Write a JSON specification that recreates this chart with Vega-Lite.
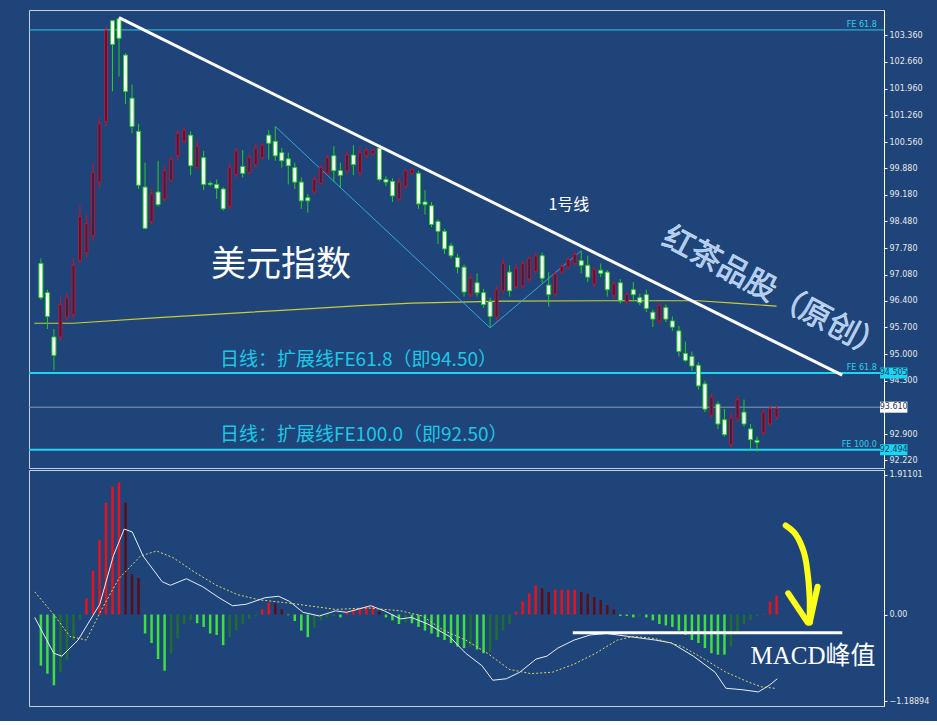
{
  "$schema": "https://vega.github.io/schema/vega-lite/v6.json",
  "background": "#1f4479",
  "padding": {"left": 27, "top": 9, "right": 22, "bottom": 14},
  "spacing": 0,
  "config": {"view": {"stroke": "#c8d0dc", "strokeWidth": 1}, "axisY": {"orient": "right", "title": null, "grid": false, "domainColor": "#ffffff", "tickColor": "#ffffff", "tickSize": 3, "labelColor": "#e8e8e8", "labelFontSize": 8, "labelFont": "DejaVu Sans", "labelPadding": 2}},
  "datasets": {
    "candles": [
      {"i":0,"o":97.38,"h":97.51,"l":96.43,"c":96.48},{"i":1,"o":96.61,"h":96.69,"l":95.66,"c":95.99},{"i":2,"o":95.45,"h":95.66,"l":94.58,"c":94.97},{"i":3,"o":95.45,"h":96.51,"l":95.35,"c":96.30},{"i":4,"o":95.97,"h":96.61,"l":95.87,"c":96.48},{"i":5,"o":96.04,"h":97.53,"l":95.92,"c":97.33},{"i":6,"o":97.45,"h":98.92,"l":97.38,"c":98.61},{"i":7,"o":97.66,"h":98.66,"l":97.53,"c":98.43},{"i":8,"o":98.10,"h":100.02,"l":97.97,"c":99.76},{"i":9,"o":99.51,"h":101.22,"l":99.33,"c":101.04},
      {"i":10,"o":101.10,"h":103.61,"l":100.97,"c":103.48},{"i":11,"o":103.74,"h":103.76,"l":101.89,"c":103.12},{"i":12,"o":103.79,"h":103.82,"l":102.28,"c":103.28},{"i":13,"o":102.84,"h":102.89,"l":101.56,"c":101.89},{"i":14,"o":101.71,"h":102.07,"l":100.79,"c":100.97},{"i":15,"o":100.84,"h":101.04,"l":99.33,"c":99.43},{"i":16,"o":99.38,"h":100.02,"l":98.28,"c":98.30},{"i":17,"o":98.48,"h":99.33,"l":98.40,"c":99.20},{"i":18,"o":99.25,"h":100.07,"l":98.87,"c":98.92},{"i":19,"o":99.07,"h":99.94,"l":98.99,"c":99.81},
      {"i":20,"o":99.56,"h":100.20,"l":99.51,"c":100.10},{"i":21,"o":100.20,"h":100.87,"l":100.10,"c":100.79},{"i":22,"o":100.58,"h":100.97,"l":100.53,"c":100.87},{"i":23,"o":100.74,"h":100.84,"l":99.69,"c":99.94},{"i":24,"o":99.89,"h":100.61,"l":99.84,"c":100.45},{"i":25,"o":100.15,"h":100.33,"l":99.30,"c":99.45},{"i":26,"o":99.48,"h":99.53,"l":99.40,"c":99.45},{"i":27,"o":99.45,"h":99.58,"l":99.07,"c":99.35},{"i":28,"o":99.33,"h":99.38,"l":98.76,"c":98.81},{"i":29,"o":98.87,"h":100.02,"l":98.81,"c":99.89},
      {"i":30,"o":99.71,"h":100.40,"l":99.63,"c":100.33},{"i":31,"o":99.92,"h":100.35,"l":99.63,"c":99.74},{"i":32,"o":99.76,"h":100.28,"l":99.71,"c":100.15},{"i":33,"o":99.97,"h":100.53,"l":99.89,"c":100.40},{"i":34,"o":100.15,"h":100.53,"l":100.10,"c":100.48},{"i":35,"o":100.74,"h":100.87,"l":100.10,"c":100.53},{"i":36,"o":100.58,"h":100.97,"l":100.07,"c":100.20},{"i":37,"o":100.28,"h":100.40,"l":99.89,"c":100.07},{"i":38,"o":100.12,"h":100.28,"l":99.45,"c":99.94},{"i":39,"o":99.89,"h":100.02,"l":99.33,"c":99.51},
      {"i":40,"o":99.51,"h":99.63,"l":98.81,"c":99.02},{"i":41,"o":99.10,"h":99.20,"l":98.71,"c":99.02},{"i":42,"o":99.25,"h":99.69,"l":99.20,"c":99.58},{"i":43,"o":99.48,"h":99.97,"l":99.43,"c":99.89},{"i":44,"o":99.74,"h":100.22,"l":99.69,"c":100.15},{"i":45,"o":100.20,"h":100.45,"l":99.51,"c":99.81},{"i":46,"o":99.81,"h":100.02,"l":99.38,"c":99.69},{"i":47,"o":99.81,"h":100.33,"l":99.71,"c":100.22},{"i":48,"o":100.22,"h":100.48,"l":99.69,"c":99.97},{"i":49,"o":99.76,"h":100.45,"l":99.63,"c":100.28},
      {"i":50,"o":100.20,"h":100.43,"l":100.12,"c":100.35},{"i":51,"o":100.25,"h":100.40,"l":100.20,"c":100.35},{"i":52,"o":100.40,"h":100.48,"l":99.53,"c":99.58},{"i":53,"o":99.58,"h":99.66,"l":99.40,"c":99.51},{"i":54,"o":99.53,"h":99.61,"l":98.99,"c":99.15},{"i":55,"o":99.07,"h":99.63,"l":99.02,"c":99.51},{"i":56,"o":99.40,"h":99.87,"l":99.33,"c":99.81},{"i":57,"o":99.74,"h":99.89,"l":99.69,"c":99.84},{"i":58,"o":99.74,"h":99.81,"l":98.81,"c":98.94},{"i":59,"o":98.99,"h":99.30,"l":98.66,"c":98.92},
      {"i":60,"o":98.89,"h":98.99,"l":98.33,"c":98.40},{"i":61,"o":98.48,"h":98.53,"l":97.89,"c":98.22},{"i":62,"o":98.22,"h":98.28,"l":97.63,"c":97.76},{"i":63,"o":97.84,"h":97.92,"l":97.51,"c":97.58},{"i":64,"o":97.53,"h":97.63,"l":97.12,"c":97.28},{"i":65,"o":97.28,"h":97.35,"l":96.51,"c":96.63},{"i":66,"o":96.56,"h":97.12,"l":96.48,"c":96.99},{"i":67,"o":96.87,"h":97.12,"l":96.51,"c":96.61},{"i":68,"o":96.61,"h":96.71,"l":96.22,"c":96.30},{"i":69,"o":96.38,"h":96.48,"l":95.71,"c":95.99},
      {"i":70,"o":95.97,"h":96.79,"l":95.87,"c":96.69},{"i":71,"o":96.66,"h":97.51,"l":96.58,"c":97.38},{"i":72,"o":97.15,"h":97.33,"l":96.51,"c":96.66},{"i":73,"o":96.76,"h":97.38,"l":96.69,"c":97.25},{"i":74,"o":96.79,"h":97.45,"l":96.74,"c":97.38},{"i":75,"o":96.97,"h":97.58,"l":96.89,"c":97.51},{"i":76,"o":97.17,"h":97.66,"l":97.10,"c":97.58},{"i":77,"o":97.58,"h":97.66,"l":96.87,"c":96.99},{"i":78,"o":96.81,"h":97.15,"l":96.25,"c":96.56},{"i":79,"o":96.58,"h":97.17,"l":96.51,"c":97.10},
      {"i":80,"o":97.15,"h":97.38,"l":97.10,"c":97.30},{"i":81,"o":97.28,"h":97.56,"l":97.22,"c":97.48},{"i":82,"o":97.38,"h":97.71,"l":97.33,"c":97.61},{"i":83,"o":97.45,"h":97.71,"l":97.12,"c":97.33},{"i":84,"o":97.33,"h":97.58,"l":96.89,"c":97.02},{"i":85,"o":96.84,"h":97.30,"l":96.76,"c":97.22},{"i":86,"o":97.20,"h":97.38,"l":97.02,"c":97.12},{"i":87,"o":97.15,"h":97.20,"l":96.51,"c":96.69},{"i":88,"o":96.53,"h":96.92,"l":96.45,"c":96.84},{"i":89,"o":96.87,"h":96.97,"l":96.33,"c":96.40},
      {"i":90,"o":96.38,"h":96.63,"l":96.30,"c":96.56},{"i":91,"o":96.69,"h":96.89,"l":96.38,"c":96.56},{"i":92,"o":96.48,"h":96.58,"l":96.28,"c":96.35},{"i":93,"o":96.56,"h":96.69,"l":96.10,"c":96.20},{"i":94,"o":96.10,"h":96.17,"l":95.71,"c":95.92},{"i":95,"o":95.87,"h":96.35,"l":95.79,"c":96.28},{"i":96,"o":96.22,"h":96.30,"l":95.84,"c":95.92},{"i":97,"o":95.87,"h":95.99,"l":95.61,"c":95.71},{"i":98,"o":95.61,"h":95.74,"l":94.94,"c":95.07},{"i":99,"o":95.02,"h":95.33,"l":94.79,"c":94.84},
      {"i":100,"o":94.94,"h":95.07,"l":94.56,"c":94.69},{"i":101,"o":94.71,"h":94.79,"l":94.07,"c":94.17},{"i":102,"o":94.22,"h":94.30,"l":93.48,"c":93.56},{"i":103,"o":93.40,"h":93.97,"l":93.33,"c":93.87},{"i":104,"o":93.69,"h":93.76,"l":93.04,"c":93.17},{"i":105,"o":93.28,"h":93.56,"l":92.84,"c":92.89},{"i":106,"o":92.63,"h":93.48,"l":92.56,"c":93.33},{"i":107,"o":93.30,"h":93.92,"l":93.22,"c":93.81},{"i":108,"o":93.48,"h":93.81,"l":93.10,"c":93.17},{"i":109,"o":93.04,"h":93.17,"l":92.51,"c":92.76},
      {"i":110,"o":92.74,"h":92.84,"l":92.45,"c":92.69},{"i":111,"o":92.94,"h":93.56,"l":92.87,"c":93.48},{"i":112,"o":93.17,"h":93.66,"l":93.10,"c":93.58},{"i":113,"o":93.35,"h":93.66,"l":93.28,"c":93.58}
    ],
    "ma": [{"i":-1,"p":95.81},{"i":5,"p":95.81},{"i":18,"p":95.96},{"i":37,"p":96.15},{"i":49,"p":96.27},{"i":57,"p":96.34},{"i":71,"p":96.39},{"i":86,"p":96.40},{"i":101,"p":96.40},{"i":107,"p":96.33},{"i":113,"p":96.26}],
    "hist": [
      {"i":0,"m":-0.70},{"i":1,"m":-0.81},{"i":2,"m":-0.97},{"i":3,"m":-0.79},{"i":4,"m":-0.62},{"i":5,"m":-0.35},{"i":6,"m":-0.07},{"i":7,"m":0.22},{"i":8,"m":0.60},{"i":9,"m":1.02},
      {"i":10,"m":1.53},{"i":11,"m":1.75},{"i":12,"m":1.81},{"i":13,"m":1.53},{"i":14,"m":0.55},{"i":15,"m":0.50},{"i":16,"m":-0.26},{"i":17,"m":-0.39},{"i":18,"m":-0.61},{"i":19,"m":-0.77},
      {"i":20,"m":-0.53},{"i":21,"m":-0.33},{"i":22,"m":-0.13},{"i":23,"m":-0.08},{"i":24,"m":-0.12},{"i":25,"m":-0.17},{"i":26,"m":-0.26},{"i":27,"m":-0.28},{"i":28,"m":-0.42},{"i":29,"m":-0.31},
      {"i":30,"m":-0.22},{"i":31,"m":-0.13},{"i":32,"m":-0.06},{"i":33,"m":-0.02},{"i":34,"m":0.07},{"i":35,"m":0.16},{"i":36,"m":0.15},{"i":37,"m":0.07},{"i":38,"m":-0.01},{"i":39,"m":-0.09},
      {"i":40,"m":-0.22},{"i":41,"m":-0.31},{"i":42,"m":-0.18},{"i":43,"m":-0.08},{"i":44,"m":-0.04},{"i":45,"m":-0.02},{"i":46,"m":-0.04},{"i":47,"m":0.04},{"i":48,"m":0.07},{"i":49,"m":0.09},
      {"i":50,"m":0.11},{"i":51,"m":0.12},{"i":52,"m":0.04},{"i":53,"m":-0.04},{"i":54,"m":-0.08},{"i":55,"m":-0.13},{"i":56,"m":-0.11},{"i":57,"m":-0.12},{"i":58,"m":-0.17},{"i":59,"m":-0.22},
      {"i":60,"m":-0.26},{"i":61,"m":-0.31},{"i":62,"m":-0.35},{"i":63,"m":-0.39},{"i":64,"m":-0.44},{"i":65,"m":-0.46},{"i":66,"m":-0.44},{"i":67,"m":-0.48},{"i":68,"m":-0.53},{"i":69,"m":-0.51},
      {"i":70,"m":-0.35},{"i":71,"m":-0.22},{"i":72,"m":-0.13},{"i":73,"m":0.04},{"i":74,"m":0.18},{"i":75,"m":0.29},{"i":76,"m":0.40},{"i":77,"m":0.36},{"i":78,"m":0.31},{"i":79,"m":0.34},
      {"i":80,"m":0.34},{"i":81,"m":0.34},{"i":82,"m":0.34},{"i":83,"m":0.31},{"i":84,"m":0.28},{"i":85,"m":0.24},{"i":86,"m":0.20},{"i":87,"m":0.13},{"i":88,"m":0.07},{"i":89,"m":-0.02},
      {"i":90,"m":-0.02},{"i":91,"m":-0.04},{"i":92,"m":-0.03},{"i":93,"m":-0.04},{"i":94,"m":-0.08},{"i":95,"m":-0.13},{"i":96,"m":-0.15},{"i":97,"m":-0.17},{"i":98,"m":-0.22},{"i":99,"m":-0.28},
      {"i":100,"m":-0.35},{"i":101,"m":-0.39},{"i":102,"m":-0.46},{"i":103,"m":-0.53},{"i":104,"m":-0.55},{"i":105,"m":-0.55},{"i":106,"m":-0.44},{"i":107,"m":-0.26},{"i":108,"m":-0.13},{"i":109,"m":-0.07},
      {"i":110,"m":-0.02},{"i":111,"m":0.01},{"i":112,"m":0.18},{"i":113,"m":0.26}
    ],
    "macd": [{"i":-0.95,"v":-0.04},{"i":1.97,"v":-0.53},{"i":3.21,"v":-0.57},{"i":5.71,"v":-0.35},{"i":9.04,"v":0.14},{"i":11.12,"v":0.80},{"i":12.79,"v":1.17},{"i":14.04,"v":1.13},{"i":15.7,"v":0.80},{"i":18.62,"v":0.45},{"i":19.87,"v":0.40},{"i":22.36,"v":0.49},{"i":24.86,"v":0.38},{"i":27.36,"v":0.23},{"i":29.44,"v":0.12},{"i":31.52,"v":0.14},{"i":34.44,"v":0.23},{"i":36.52,"v":0.25},{"i":38.18,"v":0.18},{"i":40.27,"v":0.03},{"i":42.77,"v":-0.02},{"i":45.26,"v":0.05},{"i":46.93,"v":0.03},{"i":48.59,"v":0.07},{"i":50.67,"v":0.12},{"i":52.76,"v":0.05},{"i":55.25,"v":-0.06},{"i":56.92,"v":-0.04},{"i":59.42,"v":-0.13},{"i":62.75,"v":-0.30},{"i":65.25,"v":-0.53},{"i":67.74,"v":-0.70},{"i":69.41,"v":-0.90},{"i":71.49,"v":-0.88},{"i":73.57,"v":-0.79},{"i":76.07,"v":-0.61},{"i":77.73,"v":-0.57},{"i":79.4,"v":-0.46},{"i":81.9,"v":-0.35},{"i":84.4,"v":-0.28},{"i":86.9,"v":-0.26},{"i":90.23,"v":-0.30},{"i":94.39,"v":-0.35},{"i":96.89,"v":-0.39},{"i":100.22,"v":-0.57},{"i":103.55,"v":-0.79},{"i":105.22,"v":-1.01},{"i":107.71,"v":-1.03},{"i":110.21,"v":-1.06},{"i":111.88,"v":-0.97},{"i":113.12,"v":-0.88}],
    "signal": [{"i":-0.95,"v":0.31},{"i":1.97,"v":0.00},{"i":4.46,"v":-0.30},{"i":6.96,"v":-0.35},{"i":9.46,"v":0.09},{"i":11.96,"v":0.49},{"i":15.29,"v":0.80},{"i":17.78,"v":0.87},{"i":20.28,"v":0.78},{"i":23.61,"v":0.58},{"i":26.94,"v":0.40},{"i":30.27,"v":0.27},{"i":33.6,"v":0.20},{"i":37.77,"v":0.16},{"i":41.93,"v":0.11},{"i":45.26,"v":0.07},{"i":50.26,"v":0.09},{"i":55.25,"v":0.05},{"i":58.58,"v":-0.02},{"i":61.91,"v":-0.22},{"i":65.25,"v":-0.35},{"i":68.58,"v":-0.53},{"i":71.91,"v":-0.75},{"i":75.24,"v":-0.81},{"i":78.57,"v":-0.79},{"i":81.9,"v":-0.68},{"i":85.23,"v":-0.53},{"i":88.56,"v":-0.35},{"i":91.06,"v":-0.30},{"i":94.39,"v":-0.33},{"i":98.56,"v":-0.44},{"i":101.89,"v":-0.61},{"i":105.22,"v":-0.79},{"i":108.55,"v":-0.92},{"i":110.63,"v":-0.99},{"i":112.71,"v":-1.01}],
    "arrow": [{"part":"shaft","i":114.4,"v":1.22},{"part":"shaft","i":116.9,"v":0.93},{"part":"shaft","i":117.7,"v":0.62},{"part":"shaft","i":118.1,"v":0.19},{"part":"shaft","i":118.1,"v":-0.11},{"part":"left","i":114.8,"v":0.29},{"part":"left","i":117.8,"v":-0.11},{"part":"right","i":119.3,"v":0.38},{"part":"right","i":118.1,"v":-0.11}]
  },
  "vconcat": [
    {
      "width": 855,
      "height": 458,
      "layer": [
        {"data": {"values": [{"p": 103.5}]}, "mark": {"type": "rule", "color": "#2cc8e4", "strokeWidth": 1}, "encoding": {"y": {"field": "p", "type": "quantitative", "scale": {"domain": [92.147, 103.891], "nice": false, "zero": false}, "axis": {"values": [103.36,102.66,101.96,101.26,100.56,99.88,99.18,98.48,97.78,97.08,96.4,95.7,95,94.3,92.9,92.22], "format": ".3f"}}}},
        {"data": {"values": [{"p": 94.505}]}, "mark": {"type": "rule", "color": "#1ad6f2", "strokeWidth": 2}, "encoding": {"y": {"field": "p", "type": "quantitative", "scale": {"domain": [92.147, 103.891], "nice": false, "zero": false}, "axis": {"values": [103.36,102.66,101.96,101.26,100.56,99.88,99.18,98.48,97.78,97.08,96.4,95.7,95,94.3,92.9,92.22], "format": ".3f"}}}},
        {"data": {"values": [{"p": 93.61}]}, "mark": {"type": "rule", "color": "#8a98b0", "strokeWidth": 1}, "encoding": {"y": {"field": "p", "type": "quantitative", "scale": {"domain": [92.147, 103.891], "nice": false, "zero": false}, "axis": {"values": [103.36,102.66,101.96,101.26,100.56,99.88,99.18,98.48,97.78,97.08,96.4,95.7,95,94.3,92.9,92.22], "format": ".3f"}}}},
        {"data": {"values": [{"p": 92.494}]}, "mark": {"type": "rule", "color": "#1ad6f2", "strokeWidth": 2}, "encoding": {"y": {"field": "p", "type": "quantitative", "scale": {"domain": [92.147, 103.891], "nice": false, "zero": false}, "axis": {"values": [103.36,102.66,101.96,101.26,100.56,99.88,99.18,98.48,97.78,97.08,96.4,95.7,95,94.3,92.9,92.22], "format": ".3f"}}}},
        {"data": {"name": "ma"}, "mark": {"type": "line", "color": "#c8cc3a", "strokeWidth": 1.2}, "encoding": {"x": {"field": "i", "type": "quantitative", "scale": {"domain": [-1.06, 128.74], "nice": false, "zero": false}, "axis": null}, "y": {"field": "p", "type": "quantitative", "scale": {"domain": [92.147, 103.891], "nice": false, "zero": false}, "axis": {"values": [103.36,102.66,101.96,101.26,100.56,99.88,99.18,98.48,97.78,97.08,96.4,95.7,95,94.3,92.9,92.22], "format": ".3f"}}}},
        {"data": {"values": [{"i": 36, "p": 100.97}, {"i": 69, "p": 95.69}, {"i": 83, "p": 97.71}]}, "mark": {"type": "line", "color": "#35a6dc", "strokeWidth": 1}, "encoding": {"x": {"field": "i", "type": "quantitative", "scale": {"domain": [-1.06, 128.74], "nice": false, "zero": false}, "axis": null}, "y": {"field": "p", "type": "quantitative", "scale": {"domain": [92.147, 103.891], "nice": false, "zero": false}, "axis": {"values": [103.36,102.66,101.96,101.26,100.56,99.88,99.18,98.48,97.78,97.08,96.4,95.7,95,94.3,92.9,92.22], "format": ".3f"}}}},
        {"data": {"name": "candles"}, "transform": [{"filter": "datum.c < datum.o"}], "mark": {"type": "rule", "color": "#22d022", "strokeWidth": 1}, "encoding": {"x": {"field": "i", "type": "quantitative", "scale": {"domain": [-1.06, 128.74], "nice": false, "zero": false}, "axis": null}, "y": {"field": "l", "type": "quantitative", "scale": {"domain": [92.147, 103.891], "nice": false, "zero": false}, "axis": {"values": [103.36,102.66,101.96,101.26,100.56,99.88,99.18,98.48,97.78,97.08,96.4,95.7,95,94.3,92.9,92.22], "format": ".3f"}}, "y2": {"field": "h"}}},
        {"data": {"name": "candles"}, "transform": [{"filter": "datum.c >= datum.o"}], "mark": {"type": "rule", "color": "#c4142c", "strokeWidth": 1}, "encoding": {"x": {"field": "i", "type": "quantitative", "scale": {"domain": [-1.06, 128.74], "nice": false, "zero": false}, "axis": null}, "y": {"field": "l", "type": "quantitative", "scale": {"domain": [92.147, 103.891], "nice": false, "zero": false}, "axis": {"values": [103.36,102.66,101.96,101.26,100.56,99.88,99.18,98.48,97.78,97.08,96.4,95.7,95,94.3,92.9,92.22], "format": ".3f"}}, "y2": {"field": "h"}}},
        {"data": {"name": "candles"}, "transform": [{"filter": "datum.c < datum.o"}], "mark": {"type": "bar", "width": 4, "fill": "#ffffff", "stroke": "#22d022", "strokeWidth": 1}, "encoding": {"x": {"field": "i", "type": "quantitative", "scale": {"domain": [-1.06, 128.74], "nice": false, "zero": false}, "axis": null}, "y": {"field": "o", "type": "quantitative", "scale": {"domain": [92.147, 103.891], "nice": false, "zero": false}, "axis": {"values": [103.36,102.66,101.96,101.26,100.56,99.88,99.18,98.48,97.78,97.08,96.4,95.7,95,94.3,92.9,92.22], "format": ".3f"}}, "y2": {"field": "c"}}},
        {"data": {"name": "candles"}, "transform": [{"filter": "datum.c >= datum.o"}], "mark": {"type": "bar", "width": 3, "fill": "#3a2048", "stroke": "#c4142c", "strokeWidth": 1}, "encoding": {"x": {"field": "i", "type": "quantitative", "scale": {"domain": [-1.06, 128.74], "nice": false, "zero": false}, "axis": null}, "y": {"field": "o", "type": "quantitative", "scale": {"domain": [92.147, 103.891], "nice": false, "zero": false}, "axis": {"values": [103.36,102.66,101.96,101.26,100.56,99.88,99.18,98.48,97.78,97.08,96.4,95.7,95,94.3,92.9,92.22], "format": ".3f"}}, "y2": {"field": "c"}}},
        {"data": {"values": [{"i": 12, "p": 103.82}, {"i": 123.1, "p": 94.45}]}, "mark": {"type": "line", "color": "#ffffff", "strokeWidth": 3}, "encoding": {"x": {"field": "i", "type": "quantitative", "scale": {"domain": [-1.06, 128.74], "nice": false, "zero": false}, "axis": null}, "y": {"field": "p", "type": "quantitative", "scale": {"domain": [92.147, 103.891], "nice": false, "zero": false}, "axis": {"values": [103.36,102.66,101.96,101.26,100.56,99.88,99.18,98.48,97.78,97.08,96.4,95.7,95,94.3,92.9,92.22], "format": ".3f"}}}},
        {"data": {"values": [{"i": 36.9, "p": 97.33, "t": "美元指数"}]}, "mark": {"type": "text", "color": "#ffffff", "fontSize": 35, "font": "Noto Sans CJK SC", "align": "center", "baseline": "middle"}, "encoding": {"x": {"field": "i", "type": "quantitative", "scale": {"domain": [-1.06, 128.74], "nice": false, "zero": false}, "axis": null}, "y": {"field": "p", "type": "quantitative", "scale": {"domain": [92.147, 103.891], "nice": false, "zero": false}, "axis": {"values": [103.36,102.66,101.96,101.26,100.56,99.88,99.18,98.48,97.78,97.08,96.4,95.7,95,94.3,92.9,92.22], "format": ".3f"}}, "text": {"field": "t"}}},
        {"data": {"values": [{"i": 81.1, "p": 98.92, "t": "1号线"}]}, "mark": {"type": "text", "color": "#ffffff", "fontSize": 16, "font": "Noto Sans CJK SC", "align": "center", "baseline": "middle"}, "encoding": {"x": {"field": "i", "type": "quantitative", "scale": {"domain": [-1.06, 128.74], "nice": false, "zero": false}, "axis": null}, "y": {"field": "p", "type": "quantitative", "scale": {"domain": [92.147, 103.891], "nice": false, "zero": false}, "axis": {"values": [103.36,102.66,101.96,101.26,100.56,99.88,99.18,98.48,97.78,97.08,96.4,95.7,95,94.3,92.9,92.22], "format": ".3f"}}, "text": {"field": "t"}}},
        {"data": {"values": [{"i": 112.6, "p": 96.58, "t": "红茶品股（原创）"}]}, "mark": {"type": "text", "color": "#a9c8f0", "stroke": "#dde8ff", "strokeWidth": 0.6, "fontSize": 31, "font": "Noto Sans CJK SC", "align": "center", "baseline": "middle", "angle": 28}, "encoding": {"x": {"field": "i", "type": "quantitative", "scale": {"domain": [-1.06, 128.74], "nice": false, "zero": false}, "axis": null}, "y": {"field": "p", "type": "quantitative", "scale": {"domain": [92.147, 103.891], "nice": false, "zero": false}, "axis": {"values": [103.36,102.66,101.96,101.26,100.56,99.88,99.18,98.48,97.78,97.08,96.4,95.7,95,94.3,92.9,92.22], "format": ".3f"}}, "text": {"field": "t"}}},
        {"data": {"values": [{"i": 27.5, "p": 94.84, "t": "日线：扩展线FE61.8（即94.50）"}, {"i": 27.5, "p": 92.87, "t": "日线：扩展线FE100.0（即92.50）"}]}, "mark": {"type": "text", "color": "#1cc8e6", "fontSize": 19, "font": "Noto Sans CJK SC", "align": "left", "baseline": "middle"}, "encoding": {"x": {"field": "i", "type": "quantitative", "scale": {"domain": [-1.06, 128.74], "nice": false, "zero": false}, "axis": null}, "y": {"field": "p", "type": "quantitative", "scale": {"domain": [92.147, 103.891], "nice": false, "zero": false}, "axis": {"values": [103.36,102.66,101.96,101.26,100.56,99.88,99.18,98.48,97.78,97.08,96.4,95.7,95,94.3,92.9,92.22], "format": ".3f"}}, "text": {"field": "t"}}},
        {"data": {"values": [{"i": 128.4, "p": 103.63, "t": "FE 61.8"}, {"i": 128.4, "p": 94.63, "t": "FE 61.8"}, {"i": 128.4, "p": 92.61, "t": "FE 100.0"}]}, "mark": {"type": "text", "color": "#2cd0f0", "fontSize": 8, "font": "DejaVu Sans", "align": "right", "baseline": "middle"}, "encoding": {"x": {"field": "i", "type": "quantitative", "scale": {"domain": [-1.06, 128.74], "nice": false, "zero": false}, "axis": null}, "y": {"field": "p", "type": "quantitative", "scale": {"domain": [92.147, 103.891], "nice": false, "zero": false}, "axis": {"values": [103.36,102.66,101.96,101.26,100.56,99.88,99.18,98.48,97.78,97.08,96.4,95.7,95,94.3,92.9,92.22], "format": ".3f"}}, "text": {"field": "t"}}},
        {"data": {"values": [{"p": 94.505, "k": "fe"}, {"p": 93.61, "k": "cur"}, {"p": 92.494, "k": "fe"}]}, "mark": {"type": "bar", "height": 11}, "encoding": {"x": {"datum": 128.9, "type": "quantitative", "scale": {"domain": [-1.06, 128.74], "nice": false, "zero": false}, "axis": null}, "x2": {"datum": 133.1}, "y": {"field": "p", "type": "quantitative", "scale": {"domain": [92.147, 103.891], "nice": false, "zero": false}, "axis": {"values": [103.36,102.66,101.96,101.26,100.56,99.88,99.18,98.48,97.78,97.08,96.4,95.7,95,94.3,92.9,92.22], "format": ".3f"}}, "color": {"field": "k", "type": "nominal", "scale": {"domain": ["fe", "cur"], "range": ["#1ad6f2", "#ffffff"]}, "legend": null}}},
        {"data": {"values": [{"p": 94.505, "t": "94.505"}, {"p": 93.61, "t": "93.610"}, {"p": 92.494, "t": "92.494"}]}, "mark": {"type": "text", "color": "#1f3560", "fontSize": 8, "font": "DejaVu Sans", "align": "center", "baseline": "middle"}, "encoding": {"x": {"datum": 131, "type": "quantitative", "scale": {"domain": [-1.06, 128.74], "nice": false, "zero": false}, "axis": null}, "y": {"field": "p", "type": "quantitative", "scale": {"domain": [92.147, 103.891], "nice": false, "zero": false}, "axis": {"values": [103.36,102.66,101.96,101.26,100.56,99.88,99.18,98.48,97.78,97.08,96.4,95.7,95,94.3,92.9,92.22], "format": ".3f"}}, "text": {"field": "t"}}}
      ]
    },
    {
      "width": 855,
      "height": 236,
      "layer": [
        {"data": {"name": "hist"}, "transform": [{"window": [{"op": "lag", "field": "m", "as": "prev"}], "sort": [{"field": "i"}]}], "mark": {"type": "bar", "width": 2.5}, "encoding": {"x": {"field": "i", "type": "quantitative", "scale": {"domain": [-1.06, 128.74], "nice": false, "zero": false}, "axis": null}, "y": {"field": "m", "type": "quantitative", "scale": {"domain": [-1.253, 1.979], "nice": false, "zero": false}, "axis": {"values": [1.91101, 0, -1.18894], "labelExpr": "datum.value == 0 ? '0.00' : format(datum.value, '.5f')"}}, "y2": {"datum": 0}, "color": {"condition": [{"test": "datum.m >= 0 && datum.m >= datum.prev", "value": "#e8121e"}, {"test": "datum.m >= 0", "value": "#5e0c18"}, {"test": "datum.m <= datum.prev", "value": "#3ee03e"}], "value": "#1f6e30"}}},
        {"data": {"name": "macd"}, "mark": {"type": "line", "color": "#e8eef8", "strokeWidth": 1}, "encoding": {"x": {"field": "i", "type": "quantitative", "scale": {"domain": [-1.06, 128.74], "nice": false, "zero": false}, "axis": null}, "y": {"field": "v", "type": "quantitative", "scale": {"domain": [-1.253, 1.979], "nice": false, "zero": false}, "axis": {"values": [1.91101, 0, -1.18894], "labelExpr": "datum.value == 0 ? '0.00' : format(datum.value, '.5f')"}}}},
        {"data": {"name": "signal"}, "mark": {"type": "line", "color": "#d8d860", "strokeWidth": 1, "strokeDash": [2, 2]}, "encoding": {"x": {"field": "i", "type": "quantitative", "scale": {"domain": [-1.06, 128.74], "nice": false, "zero": false}, "axis": null}, "y": {"field": "v", "type": "quantitative", "scale": {"domain": [-1.253, 1.979], "nice": false, "zero": false}, "axis": {"values": [1.91101, 0, -1.18894], "labelExpr": "datum.value == 0 ? '0.00' : format(datum.value, '.5f')"}}}},
        {"data": {"values": [{"i": 81.7, "i2": 123.1, "v": -0.25}]}, "mark": {"type": "rule", "color": "#ffffff", "strokeWidth": 3}, "encoding": {"x": {"field": "i", "type": "quantitative", "scale": {"domain": [-1.06, 128.74], "nice": false, "zero": false}, "axis": null}, "x2": {"field": "i2"}, "y": {"field": "v", "type": "quantitative", "scale": {"domain": [-1.253, 1.979], "nice": false, "zero": false}, "axis": {"values": [1.91101, 0, -1.18894], "labelExpr": "datum.value == 0 ? '0.00' : format(datum.value, '.5f')"}}}},
        {"data": {"values": [{"i": 109, "v": -0.57, "t": "MACD峰值"}]}, "mark": {"type": "text", "color": "#ffffff", "fontSize": 25, "font": "Liberation Serif, Noto Sans CJK SC", "align": "left", "baseline": "middle"}, "encoding": {"x": {"field": "i", "type": "quantitative", "scale": {"domain": [-1.06, 128.74], "nice": false, "zero": false}, "axis": null}, "y": {"field": "v", "type": "quantitative", "scale": {"domain": [-1.253, 1.979], "nice": false, "zero": false}, "axis": {"values": [1.91101, 0, -1.18894], "labelExpr": "datum.value == 0 ? '0.00' : format(datum.value, '.5f')"}}, "text": {"field": "t"}}},
        {"data": {"name": "arrow"}, "mark": {"type": "line", "color": "#ffff1a", "strokeWidth": 6, "strokeCap": "round", "strokeJoin": "round", "interpolate": "monotone"}, "encoding": {"x": {"field": "i", "type": "quantitative", "scale": {"domain": [-1.06, 128.74], "nice": false, "zero": false}, "axis": null}, "y": {"field": "v", "type": "quantitative", "scale": {"domain": [-1.253, 1.979], "nice": false, "zero": false}, "axis": {"values": [1.91101, 0, -1.18894], "labelExpr": "datum.value == 0 ? '0.00' : format(datum.value, '.5f')"}}, "detail": {"field": "part"}, "order": {"value": 0}}}
      ]
    }
  ]
}
